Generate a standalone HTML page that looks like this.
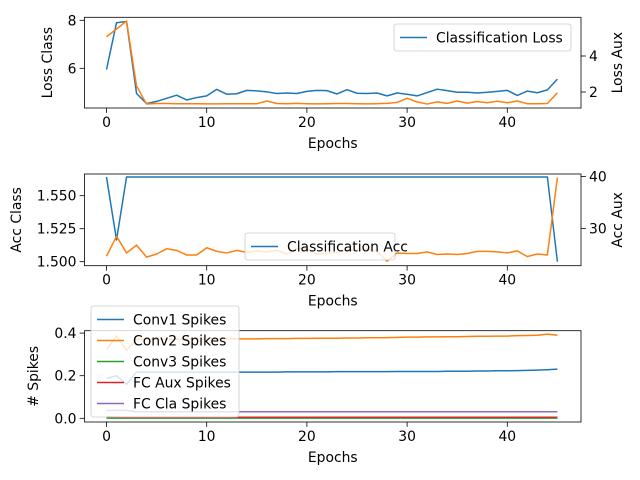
<!DOCTYPE html>
<html><head><meta charset="utf-8"><style>
body{margin:0;background:#fff}
svg{display:block;font-family:"DejaVu Sans","Liberation Sans",sans-serif;font-size:13.9px}
</style></head><body>
<svg id="fig" width="640" height="480" viewBox="0 0 640 480"></svg>
<script>
const epochs = Array.from({length:46},(_,i)=>i);
const lossClass = [5.95,7.9,7.95,4.95,4.53,4.62,4.75,4.88,4.68,4.78,4.85,5.12,4.92,4.94,5.08,5.06,5.02,4.95,4.97,4.95,5.04,5.08,5.07,4.93,5.11,4.96,4.95,4.97,4.85,4.97,4.92,4.85,4.99,5.13,5.07,5.0,5.0,4.97,5.0,5.04,5.08,4.87,5.05,4.98,5.1,5.55];
const lossAux = [5.07,5.5,5.94,2.33,1.33,1.36,1.36,1.35,1.35,1.35,1.34,1.34,1.35,1.35,1.35,1.35,1.5,1.36,1.35,1.37,1.35,1.34,1.35,1.36,1.36,1.35,1.34,1.35,1.37,1.42,1.65,1.45,1.33,1.45,1.37,1.5,1.38,1.47,1.4,1.49,1.4,1.5,1.35,1.35,1.36,1.96];
const accClass = [1.5642,1.5164].concat(Array(42).fill(1.5642)).concat([1.5642,1.5]);
const accAux = [24.67,28.5,25.3,26.8,24.5,25.1,26.1,25.8,24.9,24.9,26.3,25.6,25.3,25.8,25.4,25.7,25.5,25.8,25.1,26.1,26.1,25.1,25.3,25.4,25.9,25.8,26.1,25.6,23.7,25.3,25.2,25.2,25.5,25.0,25.1,25.0,25.2,25.6,25.6,25.5,25.3,25.7,24.6,25.1,24.9,39.8];
const conv1 = [0.187,0.2,0.16,0.217,0.217,0.217,0.217,0.217,0.217,0.217,0.217,0.217,0.217,0.217,0.217,0.217,0.217,0.217,0.218,0.218,0.218,0.218,0.218,0.219,0.219,0.219,0.219,0.219,0.219,0.22,0.22,0.22,0.22,0.22,0.221,0.221,0.221,0.222,0.222,0.223,0.223,0.224,0.225,0.226,0.228,0.231];
const conv2 = [0.322,0.386,0.319,0.371,0.371,0.371,0.371,0.372,0.372,0.372,0.372,0.373,0.373,0.373,0.373,0.373,0.374,0.374,0.374,0.375,0.375,0.376,0.376,0.376,0.377,0.377,0.378,0.378,0.379,0.38,0.381,0.381,0.382,0.382,0.383,0.383,0.384,0.385,0.385,0.386,0.386,0.388,0.389,0.39,0.395,0.39];
const conv3 = Array(46).fill(0.001);
const fcAux = [0.008,0.006].concat(Array(44).fill(0.005));
const fcCla = [0.037,0.038,0.037].concat(Array(43).fill(0.031));
const xTicks = [0,10,20,30,40];

const svg = document.getElementById('fig');
const NS = 'http://www.w3.org/2000/svg';
function mk(tag, attrs, parent){const e=document.createElementNS(NS,tag);for(const k in attrs)e.setAttribute(k,attrs[k]);(parent||svg).appendChild(e);return e;}
const X0=84.5, X1=581;
const xs = v => 106.5 + v*10.02;

function panel(name, top, bot, lscale, rscale, lticks, rticks, lfmt, rfmt, lLabel, rLabel, llx, rlx){
  const g = mk('g',{});
  
  
  xTicks.forEach(t=>{
    const x=xs(t);
    mk('line',{x1:x,x2:x,y1:bot,y2:bot+4.9,stroke:'#000','stroke-width':0.8},g);
    const tx=mk('text',{x:x,y:bot+19,'text-anchor':'middle'},g);tx.textContent=t;
    
    
  });
  const xl=mk('text',{x:(X0+X1)/2,y:bot+40,'text-anchor':'middle'},g);xl.textContent='Epochs';
  
  
  lticks.forEach(t=>{
    const y=lscale(t);
    mk('line',{x1:X0-4.9,x2:X0,y1:y,y2:y,stroke:'#000','stroke-width':0.8},g);
    const tx=mk('text',{x:X0-8,y:y+5,'text-anchor':'end'},g);tx.textContent=lfmt(t);
    
    
  });
  const yl=mk('text',{x:0,y:0,'text-anchor':'middle',transform:`translate(${llx},${(top+bot)/2}) rotate(-90)`},g);yl.textContent=lLabel;
  
  
  if(rscale){
    rticks.forEach(t=>{
      const y=rscale(t);
      mk('line',{x1:X1,x2:X1+4.9,y1:y,y2:y,stroke:'#000','stroke-width':0.8},g);
      const tx=mk('text',{x:X1+8,y:y+5,'text-anchor':'start'},g);tx.textContent=rfmt(t);
      
      
    });
    const rl=mk('text',{x:0,y:0,'text-anchor':'middle',transform:`translate(${rlx},${(top+bot)/2}) rotate(-90)`},g);rl.textContent=rLabel;
    
    
  }
  return g;
}
function line(g, data, ys, color, name){
  const pts=data.map((v,i)=>xs(epochs[i]).toFixed(2)+','+ys(v).toFixed(2)).join(' ');
  const p=mk('polyline',{points:pts,fill:'none',stroke:color,'stroke-width':1.5,'stroke-linejoin':'round','clip-path':`url(#${g.id})`},g);
  
  
}
function frame(g, top, bot){
  mk('rect',{x:X0,y:top,width:X1-X0,height:bot-top,fill:'none',stroke:'#000','stroke-width':0.8},g);
}
function clip(id, top, bot){
  const d=mk('defs',{});const c=mk('clipPath',{id:id},d);mk('rect',{x:X0,y:top,width:X1-X0,height:bot-top},c);
}
function legend(g, x, y, w, entries, sp){
  const h=entries.length*sp+6;
  const r=mk('rect',{x:x,y:y,width:w,height:h,rx:2.5,fill:'#fff','fill-opacity':0.8,stroke:'#ccc','stroke-width':0.8},g);
  
  
  entries.forEach((e,i)=>{
    const cy=y+13.5+i*sp;
    mk('line',{x1:x+6,x2:x+33,y1:cy,y2:cy,stroke:e[1],'stroke-width':1.5},g);
    const t=mk('text',{x:x+42,y:cy+5},g);t.textContent=e[0];
    
    
  });
}

clip('c1',17.3,108);
const l1 = v => 20.3 + (8-v)*24;
const r1 = v => 92 - (v-2)*18;
const g1 = panel('loss-panel',17.3,108,l1,r1,[6,8],[2,4],String,String,'Loss Class','Loss Aux',52,622);
g1.id='c1';
line(g1, lossClass, l1, '#1f77b4','classification-loss-line');
line(g1, lossAux, r1, '#ff7f0e','aux-loss-line');
frame(g1,17.3,108);
legend(g1,394,24,177,[['Classification Loss','#1f77b4']],21);

clip('c2',174,265.7);
const l2 = v => 261.7 - (v-1.5)*1320;
const r2 = v => 176.5 - (v-40)*5.2;
const g2 = panel('acc-panel',174,265.7,l2,r2,[1.5,1.525,1.55],[30,40],v=>v.toFixed(3),String,'Acc Class','Acc Aux',21,622);
g2.id='c2';
line(g2, accClass, l2, '#1f77b4','classification-acc-line');
line(g2, accAux, r2, '#ff7f0e','aux-acc-line');
frame(g2,174,265.7);
legend(g2,245,233,150,[['Classification Acc','#1f77b4']],21);

clip('c3',330.7,422);
const l3 = v => 418.3 - v*213;
const g3 = panel('spikes-panel',330.7,422,l3,null,[0,0.2,0.4],[],v=>v.toFixed(1),null,'# Spikes','',38,0);
g3.id='c3';
line(g3, conv1, l3, '#1f77b4','conv1-spikes-line');
line(g3, conv2, l3, '#ff7f0e','conv2-spikes-line');
line(g3, conv3, l3, '#2ca02c','conv3-spikes-line');
line(g3, fcAux, l3, '#d62728','fc-aux-spikes-line');
line(g3, fcCla, l3, '#9467bd','fc-cla-spikes-line');
frame(g3,330.7,422);
legend(g3,91,306,148,[['Conv1 Spikes','#1f77b4'],['Conv2 Spikes','#ff7f0e'],['Conv3 Spikes','#2ca02c'],['FC Aux Spikes','#d62728'],['FC Cla Spikes','#9467bd']],21);
</script>
</body></html>
